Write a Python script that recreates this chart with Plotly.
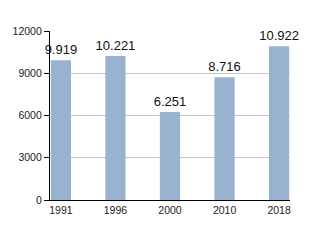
import plotly.graph_objects as go

years = ["1991", "1996", "2000", "2010", "2018"]
values = [9919, 10221, 6251, 8716, 10922]
y_ticks = [0, 3000, 6000, 9000, 12000]

labels = [f"{v:,}".replace(",", ".") for v in values]

fig = go.Figure(go.Bar(
    x=years, y=values, text=labels, textposition="outside", constraintext="none",
    textfont=dict(size=13, color="#111"), cliponaxis=False,
    marker=dict(color="#98b2cf", line=dict(width=0)), width=0.37,
))
fig.update_layout(
    width=320, height=250, margin=dict(l=50, r=30, t=31, b=50),
    paper_bgcolor="white", plot_bgcolor="white", showlegend=False,
    font=dict(family="Liberation Sans, Arial, sans-serif", size=11, color="#222"),
)
fig.update_xaxes(type="category", range=[-0.2, 4.2], showline=True, linecolor="black",
                 linewidth=1.2, ticks="", showgrid=False, tickfont=dict(size=10.5))
fig.update_yaxes(range=[0, 12000], tickvals=y_ticks, ticktext=[str(t) for t in y_ticks],
                 showline=True, linecolor="black", linewidth=1.2, ticks="outside",
                 ticklen=5, tickcolor="black", showgrid=True, gridcolor="#c4c4c4",
                 gridwidth=1, zeroline=False, tickfont=dict(size=10.5))
fig.write_html("out.html")
